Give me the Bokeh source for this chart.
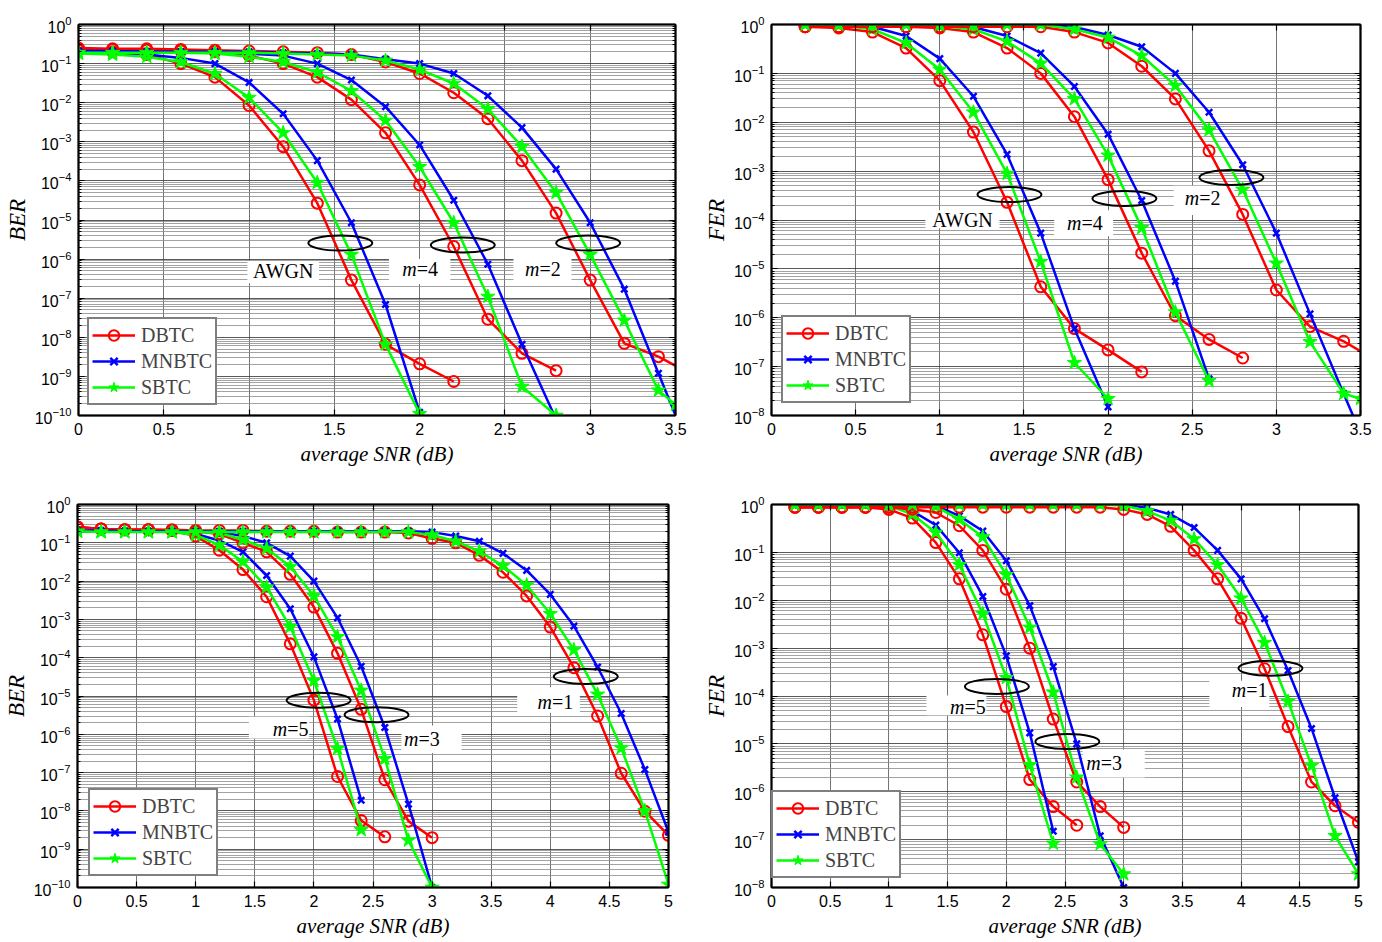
from bokeh.plotting import figure
from bokeh.models import (LogAxis, LinearAxis, FixedTicker, Legend, LegendItem, Label,
                          BoxAnnotation, NumeralTickFormatter, CustomJSTickFormatter)
from bokeh.layouts import column, row
from bokeh.embed import file_html
from bokeh.resources import INLINE

# ------------------------------------------------------------------ data
def grid(a, b):
    n = int(round((b - a) / 0.2)) + 1
    return [round(a + 0.2 * i, 1) for i in range(n)]

# (a) BER, AWGN / m=4 / m=2
A_X_AWGN_D = grid(0, 2.2)
A_X_AWGN_MS = grid(0, 2.0)
A_AWGN_DBTC = [0.22, 0.2, 0.17, 0.1, 0.045, 8.5e-3, 7.5e-4, 2.7e-5, 2.9e-7, 6.6e-9, 2.1e-9, 7.4e-10]
A_AWGN_MNBTC = [0.2, 0.18, 0.17, 0.14, 0.1, 0.033, 5.2e-3, 3.3e-4, 8.5e-6, 6.9e-8, 1.2e-10]
A_AWGN_SBTC = [0.18, 0.17, 0.15, 0.11, 0.055, 0.0135, 1.7e-3, 9e-5, 1.3e-6, 6.6e-9, 1.1e-10]
A_X_M4 = grid(0, 2.8)
A_M4_DBTC = [0.24, 0.23, 0.22, 0.21, 0.2, 0.16, 0.1, 0.045, 0.012, 1.7e-3, 7.9e-5, 2.1e-6, 2.9e-8, 3.9e-9, 1.4e-9]
A_M4_MNBTC = [0.21, 0.21, 0.2, 0.2, 0.2, 0.18, 0.16, 0.1, 0.038, 7.9e-3, 8.3e-4, 3.2e-5, 7.4e-7, 6.6e-9, 8e-11]
A_M4_SBTC = [0.19, 0.19, 0.19, 0.19, 0.18, 0.15, 0.11, 0.06, 0.02, 3.5e-3, 2.3e-4, 8.5e-6, 1.1e-7, 5.5e-10, 1e-10]
A_X_M2_DM = grid(0, 3.4) + [3.6]
A_X_M2_S = grid(0, 3.4) + [3.5]
A_M2_DBTC = [0.25, 0.24, 0.24, 0.23, 0.22, 0.21, 0.2, 0.19, 0.17, 0.11, 0.056, 0.018, 3.9e-3,
             3.3e-4, 1.5e-5, 2.9e-7, 7e-9, 3.2e-9, 1.1e-9]
A_M2_MNBTC = [0.21, 0.21, 0.2, 0.2, 0.2, 0.2, 0.19, 0.18, 0.17, 0.13, 0.1, 0.056, 0.015,
              2.3e-3, 2e-4, 8.5e-6, 1.7e-7, 1.2e-9, 8.5e-12]
A_M2_SBTC = [0.19, 0.19, 0.19, 0.19, 0.19, 0.19, 0.18, 0.17, 0.16, 0.12, 0.07, 0.031, 6.9e-3,
             7.5e-4, 5e-5, 1.3e-6, 2.7e-8, 4.4e-10, 1.9e-10]

# (b) FER, AWGN / m=4 / m=2
B_X_AWGN_D = grid(0.2, 2.2)
B_X_AWGN_MS = grid(0.2, 2.0)
B_AWGN_DBTC = [0.9, 0.85, 0.7, 0.33, 0.071, 6.3e-3, 2.3e-4, 4.3e-6, 6e-7, 2.2e-7, 7.8e-8]
B_AWGN_MNBTC = [1.0, 0.98, 0.9, 0.58, 0.2, 0.034, 2.2e-3, 5.4e-5, 6e-7, 1.5e-8]
B_AWGN_SBTC = [1.0, 0.97, 0.8, 0.42, 0.12, 0.016, 8.9e-4, 1.4e-5, 1.2e-7, 2.2e-8]
B_X_M4_D = grid(0.2, 2.8)
B_X_M4_MS = grid(0.2, 2.6)
B_M4_DBTC = [0.9, 0.9, 0.9, 0.9, 0.85, 0.7, 0.33, 0.1, 0.013, 6.7e-4, 2.1e-5, 1.1e-6, 3.6e-7, 1.5e-7]
B_M4_MNBTC = [1.0, 1.0, 1.0, 1.0, 0.97, 0.89, 0.58, 0.26, 0.054, 5.7e-3, 2.5e-4, 5.6e-6, 5.6e-8]
B_M4_SBTC = [1.0, 1.0, 1.0, 1.0, 0.93, 0.8, 0.45, 0.16, 0.03, 2.1e-3, 6.9e-5, 1.3e-6, 5.1e-8]
B_X_M2_DM = grid(0.2, 3.4) + [3.6]
B_X_M2_S = grid(0.2, 3.4) + [3.5]
B_M2_DBTC = [0.9, 0.9, 0.9, 0.9, 0.9, 0.9, 0.9, 0.9, 0.7, 0.42, 0.14, 0.03, 2.6e-3, 1.3e-4,
             3.7e-6, 6.6e-7, 3.3e-7, 1.3e-7]
B_M2_MNBTC = [1.0, 1.0, 1.0, 1.0, 1.0, 1.0, 1.0, 1.0, 0.89, 0.61, 0.35, 0.1, 0.016, 1.35e-3,
              5.4e-5, 1.2e-6, 2.8e-8, 6.8e-10]
B_M2_SBTC = [1.0, 1.0, 1.0, 1.0, 1.0, 1.0, 1.0, 1.0, 0.8, 0.54, 0.23, 0.056, 6.9e-3, 4.2e-4,
             1.3e-5, 3.2e-7, 2.8e-8, 2.2e-8]

# (c) BER, m=5 / m=3 / m=1
C_X_M5_D = grid(0, 2.6)
C_X_M5_MS = grid(0, 2.4)
C_M5_DBTC = [0.26, 0.23, 0.22, 0.22, 0.21, 0.15, 0.064, 0.02, 3.9e-3, 2.3e-4, 7.8e-6, 7.9e-8, 5.6e-9, 2.1e-9]
C_M5_MNBTC = [0.2, 0.2, 0.2, 0.2, 0.19, 0.17, 0.115, 0.058, 0.014, 1.9e-3, 1.05e-4, 2.5e-6, 1.9e-8]
C_M5_SBTC = [0.2, 0.2, 0.2, 0.2, 0.19, 0.16, 0.087, 0.032, 6.9e-3, 6.4e-4, 2.5e-5, 4.2e-7, 3.2e-9]
C_X_M3 = grid(0, 3.0)
C_M3_DBTC = [0.25, 0.23, 0.22, 0.22, 0.21, 0.2, 0.17, 0.1, 0.058, 0.015, 2.1e-3, 1.3e-4, 4.5e-6,
             6.5e-8, 5.4e-9, 2.0e-9]
C_M3_MNBTC = [0.2, 0.2, 0.2, 0.2, 0.2, 0.2, 0.19, 0.15, 0.1, 0.045, 0.01, 1.1e-3, 6e-5, 1.5e-6,
              1.5e-8, 1e-10]
C_M3_SBTC = [0.2, 0.2, 0.2, 0.2, 0.2, 0.19, 0.18, 0.12, 0.071, 0.024, 4.1e-3, 3.5e-4, 1.4e-5,
             2.3e-7, 1.7e-9, 1e-10]
C_X_M1 = grid(0, 5.0)
C_M1_DBTC = [0.26, 0.23, 0.22, 0.22, 0.22, 0.21, 0.21, 0.21, 0.2, 0.2, 0.2, 0.19, 0.19, 0.19, 0.18,
             0.13, 0.1, 0.047, 0.017, 4.1e-3, 6.3e-4, 5.5e-5, 3e-6, 9.6e-8, 9.8e-9, 2.3e-9]
C_M1_MNBTC = [0.21, 0.21, 0.2, 0.2, 0.2, 0.2, 0.2, 0.2, 0.2, 0.2, 0.2, 0.2, 0.2, 0.2, 0.2,
              0.19, 0.15, 0.11, 0.053, 0.019, 4.5e-3, 6.7e-4, 5.7e-5, 3.5e-6, 1.2e-7, 2.8e-9]
C_M1_SBTC = [0.2, 0.19, 0.19, 0.19, 0.19, 0.19, 0.19, 0.19, 0.19, 0.19, 0.19, 0.19, 0.19, 0.19, 0.19,
             0.16, 0.11, 0.06, 0.025, 7.8e-3, 1.4e-3, 1.6e-4, 1.1e-5, 4.4e-7, 1e-8, 1.2e-10]

# (d) FER, m=5 / m=3 / m=1
D_X_M5_D = grid(0.2, 2.6)
D_X_M5_MS = grid(0.2, 2.4)
D_M5_DBTC = [0.88, 0.88, 0.88, 0.88, 0.79, 0.52, 0.16, 0.028, 1.9e-3, 6e-5, 1.8e-6, 4.9e-7, 2e-7]
D_M5_MNBTC = [1.0, 1.0, 1.0, 1.0, 1.0, 0.73, 0.37, 0.098, 0.012, 6.9e-4, 1.7e-5, 1.5e-7]
D_M5_SBTC = [1.0, 1.0, 1.0, 1.0, 0.95, 0.62, 0.26, 0.055, 5.2e-3, 2.4e-4, 3.6e-6, 8.3e-8]
D_X_M3 = grid(0.2, 3.0)
D_M3_DBTC = [0.88, 0.88, 0.88, 0.88, 0.88, 0.8, 0.68, 0.36, 0.11, 0.017, 1.0e-3, 3.3e-5, 1.6e-6, 4.9e-7, 1.8e-7]
D_M3_MNBTC = [1.0, 1.0, 1.0, 1.0, 1.0, 1.0, 0.95, 0.58, 0.28, 0.067, 7.7e-3, 4.1e-4, 1e-5, 1.2e-7, 1e-8]
D_M3_SBTC = [1.0, 1.0, 1.0, 1.0, 1.0, 1.0, 0.9, 0.49, 0.21, 0.034, 2.7e-3, 1.2e-4, 2e-6, 8.1e-8, 1.9e-8]
D_X_M1 = grid(0.2, 5.0)
D_M1_DBTC = [0.88, 0.88, 0.88, 0.88, 0.88, 0.88, 0.88, 0.88, 0.88, 0.88, 0.88, 0.88, 0.88, 0.88,
             0.79, 0.62, 0.35, 0.11, 0.028, 4.2e-3, 3.7e-4, 2.3e-5, 1.6e-6, 5.1e-7, 2.3e-7]
D_M1_MNBTC = [1.0, 1.0, 1.0, 1.0, 1.0, 1.0, 1.0, 1.0, 1.0, 1.0, 1.0, 1.0, 1.0, 1.0,
              1.0, 0.85, 0.62, 0.33, 0.11, 0.028, 4.1e-3, 3.4e-4, 2.1e-5, 7.5e-7, 3.4e-8]
D_M1_SBTC = [1.0, 1.0, 1.0, 1.0, 1.0, 1.0, 1.0, 1.0, 1.0, 1.0, 1.0, 1.0, 1.0, 1.0,
             0.95, 0.73, 0.46, 0.19, 0.055, 0.011, 1.3e-3, 7.7e-5, 3.5e-6, 1.2e-7, 1.9e-8]

SCHEMES = ["DBTC", "MNBTC", "SBTC"]
XTICKS_35 = [0, 0.5, 1, 1.5, 2, 2.5, 3, 3.5]
XTICKS_5 = [0, 0.5, 1, 1.5, 2, 2.5, 3, 3.5, 4, 4.5, 5]
XTITLE = "average SNR (dB)"

# ------------------------------------------------------------------ styles
RED, BLUE, GREEN = "#ff0000", "#0000ff", "#00ff00"
SERIF = "Liberation Serif"
SANS = "Liberation Sans"
STYLE = {
    "DBTC": dict(color=RED, marker="circle", size=11, fill=None, lw=2.0),
    "MNBTC": dict(color=BLUE, marker="x", size=9, fill=None, lw=2.5),
    "SBTC": dict(color=GREEN, marker="star", size=15, fill=GREEN, lw=1.0),
}

PANELS = [
    dict(w=700, h=470, borders=(78, 25, 24, 55), xmax=3.5, ymin=-10, xticks=XTICKS_35,
         minor_start=1, ylabel="BER", legloc=(9, 10),
         groups=[
             [(A_X_AWGN_D, A_AWGN_DBTC), (A_X_AWGN_MS, A_AWGN_MNBTC), (A_X_AWGN_MS, A_AWGN_SBTC)],
             [(A_X_M4, A_M4_DBTC), (A_X_M4, A_M4_MNBTC), (A_X_M4, A_M4_SBTC)],
             [(A_X_M2_DM, A_M2_DBTC), (A_X_M2_DM, A_M2_MNBTC), (A_X_M2_S, A_M2_SBTC)]],
         ellipses=[(1.535, -5.59), (2.253, -5.64), (2.988, -5.59)],
         boxes=[(0.99, 1.41, -6.05, -6.62), (1.82, 2.18, -6.0, -6.64), (2.55, 2.89, -6.0, -6.64)],
         texts=[("AWGN", None, 1.2, -6.31), ("m", "=4", 2.0, -6.26), ("m", "=2", 2.72, -6.26)]),
    dict(w=674, h=470, borders=(70, 14, 24, 51), xmax=3.5, ymin=-8, xticks=XTICKS_35,
         minor_start=2, ylabel="FER", legloc=(10, 12),
         groups=[
             [(B_X_AWGN_D, B_AWGN_DBTC), (B_X_AWGN_MS, B_AWGN_MNBTC), (B_X_AWGN_MS, B_AWGN_SBTC)],
             [(B_X_M4_D, B_M4_DBTC), (B_X_M4_MS, B_M4_MNBTC), (B_X_M4_MS, B_M4_SBTC)],
             [(B_X_M2_DM, B_M2_DBTC), (B_X_M2_DM, B_M2_MNBTC), (B_X_M2_S, B_M2_SBTC)]],
         ellipses=[(1.414, -3.48), (2.097, -3.56), (2.733, -3.13)],
         boxes=[(0.915, 1.355, -3.80, -4.17), (1.68, 2.03, -3.80, -4.33), (2.39, 2.75, -3.30, -3.90)],
         texts=[("AWGN", None, 1.135, -3.99), ("m", "=4", 1.86, -4.07), ("m", "=2", 2.56, -3.56)]),
    dict(w=700, h=470, borders=(75, 32, 32, 49), xmax=5.0, ymin=-10, xticks=XTICKS_5,
         minor_start=1, ylabel="BER", legloc=(11, 11),
         groups=[
             [(C_X_M5_D, C_M5_DBTC), (C_X_M5_MS, C_M5_MNBTC), (C_X_M5_MS, C_M5_SBTC)],
             [(C_X_M3, C_M3_DBTC), (C_X_M3, C_M3_MNBTC), (C_X_M3, C_M3_SBTC)],
             [(C_X_M1, C_M1_DBTC), (C_X_M1, C_M1_MNBTC), (C_X_M1, C_M1_SBTC)]],
         ellipses=[(2.04, -5.11), (2.53, -5.49), (4.3, -4.49)],
         boxes=[(1.45, 1.96, -5.54, -6.11), (2.74, 3.25, -5.77, -6.49), (3.72, 4.25, -4.77, -5.44)],
         texts=[("m", "=5", 1.8, -5.85), ("m", "=3", 2.91, -6.11), ("m", "=1", 4.04, -5.16)]),
    dict(w=674, h=470, borders=(69, 16, 34, 47), xmax=5.0, ymin=-8, xticks=XTICKS_5,
         minor_start=2, ylabel="FER", legloc=(0, 9),
         groups=[
             [(D_X_M5_D, D_M5_DBTC), (D_X_M5_MS, D_M5_MNBTC), (D_X_M5_MS, D_M5_SBTC)],
             [(D_X_M3, D_M3_DBTC), (D_X_M3, D_M3_MNBTC), (D_X_M3, D_M3_SBTC)],
             [(D_X_M1, D_M1_DBTC), (D_X_M1, D_M1_MNBTC), (D_X_M1, D_M1_SBTC)]],
         ellipses=[(1.92, -3.80), (2.52, -4.95), (4.25, -3.42)],
         boxes=[(1.32, 1.83, -3.99, -4.40), (2.65, 3.18, -5.12, -5.70), (3.73, 4.24, -3.68, -4.23)],
         texts=[("m", "=5", 1.67, -4.22), ("m", "=3", 2.83, -5.39), ("m", "=1", 4.07, -3.87)]),
]


def style_axis(ax, labels=True):
    ax.axis_line_width = 2
    ax.axis_line_color = "black"
    ax.major_tick_in = 6
    ax.major_tick_out = 0
    ax.minor_tick_in = 3
    ax.minor_tick_out = 0
    ax.major_tick_line_color = "black"
    ax.major_tick_line_width = 1.2
    ax.minor_tick_line_color = "black"
    ax.minor_tick_line_width = 1
    ax.major_label_text_font = SANS
    ax.major_label_text_color = "black"
    ax.axis_label_text_font = SERIF
    ax.axis_label_text_font_style = "italic"
    ax.axis_label_text_color = "black"
    if labels:
        ax.major_label_text_font_size = "16px"
        ax.major_label_standoff = 7
    else:
        ax.major_label_text_font_size = "0px"
        ax.major_label_standoff = 0
        ax.formatter = CustomJSTickFormatter(code="return ''")


def make_panel(cfg):
    l, r, t, b = cfg["borders"]
    ymin = 10.0 ** cfg["ymin"]
    p = figure(width=cfg["w"], height=cfg["h"], x_range=(0, cfg["xmax"]), y_range=(ymin, 1.0),
               y_axis_type="log", output_backend="svg", toolbar_location=None,
               min_border_left=l, min_border_right=r, min_border_top=t, min_border_bottom=b)
    p.outline_line_color = "black"
    p.outline_line_width = 1.5
    p.background_fill_color = "white"

    nd = -cfg["ymin"]
    xt = FixedTicker(ticks=cfg["xticks"], minor_ticks=[])
    yt = FixedTicker(ticks=[10.0 ** (-k) for k in range(0, nd + 1)],
                     minor_ticks=[m * 10.0 ** (-k) for k in range(cfg["minor_start"], nd + 1)
                                  for m in range(2, 10)])
    p.xaxis.ticker = xt
    p.xaxis.formatter = NumeralTickFormatter(format="0.[0]")
    p.yaxis.ticker = yt
    for ax in p.xaxis + p.yaxis:
        style_axis(ax)
    p.xaxis.axis_label = XTITLE
    p.xaxis.axis_label_standoff = 4
    p.xaxis.axis_label_text_font_size = "21px"
    p.yaxis.axis_label = cfg["ylabel"]
    p.yaxis.axis_label_standoff = 2
    p.yaxis.axis_label_text_font_size = "23px"
    top = LinearAxis(ticker=xt)
    style_axis(top, labels=False)
    p.add_layout(top, "above")
    right = LogAxis(ticker=yt)
    style_axis(right, labels=False)
    p.add_layout(right, "right")

    p.xgrid.ticker = xt
    p.xgrid.grid_line_color = "#505050"
    p.xgrid.grid_line_width = 0.8
    p.ygrid.ticker = yt
    p.ygrid.grid_line_color = "#303030"
    p.ygrid.grid_line_width = 0.8
    p.ygrid.minor_grid_line_color = "#8a8a8a"
    p.ygrid.minor_grid_line_width = 0.8

    for (x0, x1, y0, y1) in cfg["boxes"]:
        p.add_layout(BoxAnnotation(left=x0, right=x1, top=10.0 ** y0, bottom=10.0 ** y1,
                                   fill_color="white", fill_alpha=1.0, line_alpha=0,
                                   level="underlay"))

    legend_refs = {}
    for gi, group in enumerate(cfg["groups"]):
        for name, (xs, ys) in zip(SCHEMES, group):
            st = STYLE[name]
            lr = p.line(xs, ys, line_color=st["color"], line_width=2.5)
            sr = p.scatter(xs, ys, marker=st["marker"], size=st["size"], line_color=st["color"],
                           fill_color=st["fill"], line_width=st["lw"])
            if gi == 0:
                legend_refs[name] = [lr, sr]

    ex = [e[0] for e in cfg["ellipses"]]
    ey = [10.0 ** e[1] for e in cfg["ellipses"]]
    p.ellipse(x=ex, y=ey, width=64, height=15, width_units="screen", height_units="screen",
              fill_color=None, line_color="black", line_width=2)

    for (t1, t2, tx, ty) in cfg["texts"]:
        if t2 is None:
            p.add_layout(Label(x=tx, y=10.0 ** ty, text=t1, text_font=SERIF, text_font_size="20px",
                               text_align="center", text_baseline="middle", text_color="black"))
        else:
            p.add_layout(Label(x=tx, y=10.0 ** ty, x_offset=-3, text=t1, text_font=SERIF,
                               text_font_style="italic", text_font_size="20px",
                               text_align="right", text_baseline="middle", text_color="black"))
            p.add_layout(Label(x=tx, y=10.0 ** ty, x_offset=-3, text=t2, text_font=SERIF,
                               text_font_size="20px", text_align="left", text_baseline="middle",
                               text_color="black"))

    leg = Legend(items=[LegendItem(label=n, renderers=legend_refs[n]) for n in SCHEMES],
                 location=cfg["legloc"])
    leg.label_text_font = SERIF
    leg.label_text_font_size = "20px"
    leg.glyph_width = 43
    leg.glyph_height = 26
    leg.label_height = 26
    leg.label_standoff = 6
    leg.spacing = 0
    leg.padding = 3
    leg.margin = 0
    leg.border_line_color = "black"
    leg.border_line_width = 2
    leg.background_fill_color = "white"
    leg.background_fill_alpha = 1.0
    p.add_layout(leg)
    return p


figs = [make_panel(c) for c in PANELS]
layout = column(row(figs[0], figs[1]), row(figs[2], figs[3]))
open("out.html", "w").write(file_html(layout, INLINE))
